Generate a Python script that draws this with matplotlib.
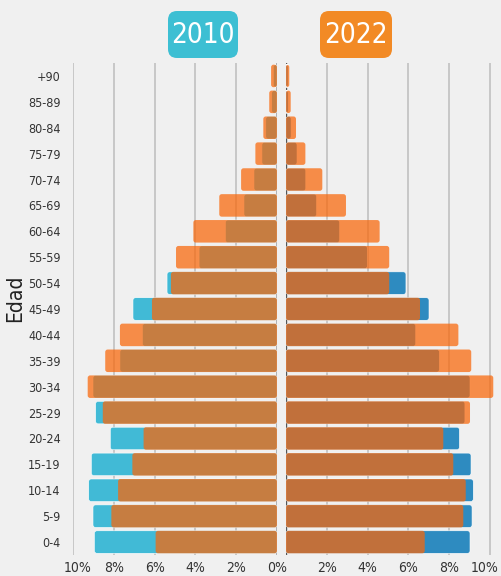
import matplotlib
matplotlib.use('Agg')
import matplotlib.pyplot as plt
import matplotlib.transforms as mtransforms
from matplotlib.patches import FancyBboxPatch

plt.rcParams['font.family'] = ['DejaVu Sans']
plt.rcParams['font.stretch'] = 'condensed'

# ── data (percent of population by age group, bottom → top) ──────────────
ages = ['0-4', '5-9', '10-14', '15-19', '20-24', '25-29', '30-34', '35-39',
        '40-44', '45-49', '50-54', '55-59', '60-64', '65-69', '70-74',
        '75-79', '80-84', '85-89', '+90']

base_2010 = [8.95, 9.02, 9.23, 9.10, 8.17, 8.89, 9.02, 7.70, 6.60, 7.06,
             5.39, 3.82, 2.53, 1.62, 1.13, 0.74, 0.55, 0.26, 0.18]
over_2010 = [5.95, 8.12, 7.79, 7.09, 6.54, 8.54, 9.28, 8.42, 7.70, 6.13,
             5.20, 4.95, 4.10, 2.83, 1.76, 1.06, 0.67, 0.38, 0.29]

base_2022 = [9.02, 9.12, 9.18, 9.07, 8.50, 8.77, 9.02, 7.52, 6.36, 7.01,
             5.88, 3.99, 2.63, 1.50, 0.97, 0.54, 0.25, 0.11, 0.10]
over_2022 = [6.80, 8.69, 8.81, 8.20, 7.71, 9.02, 10.16, 9.08, 8.45, 6.57,
             5.06, 5.06, 4.59, 2.94, 1.78, 0.95, 0.49, 0.23, 0.16]

xticks = [0, 2, 4, 6, 8, 10]
left_labels = ['0%', '2%', '4%', '6%', '8%', '10%']
right_labels = ['', '2%', '4%', '6%', '8%', '10%']

BG = '#f0f0f0'
TEAL = '#41bad6'
BLUE = '#2e8bc0'
ORANGE = '#f9670a'
BADGE_TEAL = '#3dbfd3'
BADGE_ORANGE = '#f28a25'
TXT = '#333333'

W, H = 501, 576
PX_X, PX_Y = 20.4, 25.9   # pixels per data unit (x in %, y per row)


def round_bars(ax, bars, radius_px=2.5):
    # swap the plain rectangles for rounded ones, same geometry
    for r in bars.patches:
        fb = FancyBboxPatch((r.get_x(), r.get_y()), r.get_width(), r.get_height(),
                            boxstyle=f'round,pad=0,rounding_size={radius_px / PX_X}',
                            mutation_aspect=PX_X / PX_Y,
                            facecolor=r.get_facecolor(), edgecolor=r.get_edgecolor(),
                            linewidth=r.get_linewidth(), zorder=r.get_zorder())
        r.remove()
        ax.add_patch(fb)


fig = plt.figure(figsize=(W / 100, H / 100), dpi=100, facecolor=BG)

ypos = list(range(len(ages)))
bottom = (H - 555) / H
height = 492 / H

ax_l = fig.add_axes([73 / W, bottom, 204 / W, height], facecolor=BG)
ax_r = fig.add_axes([286 / W, bottom, 214.2 / W, height], facecolor=BG)

for ax, base, over, bcol, labels in ((ax_l, base_2010, over_2010, TEAL, left_labels),
                                     (ax_r, base_2022, over_2022, BLUE, right_labels)):
    b1 = ax.barh(ypos, base, height=0.87, color=bcol, zorder=2,
                 edgecolor='#ffffff', linewidth=0.4)
    b2 = ax.barh(ypos, over, height=0.87, color=ORANGE, alpha=0.73, zorder=3,
                 linewidth=0)
    round_bars(ax, b1)
    round_bars(ax, b2)
    ax.set_ylim(-0.5, len(ages) - 0.5)
    ax.set_xticks(xticks)
    ax.set_xticklabels(labels)
    ax.xaxis.grid(True, color='#bdbdbd', linewidth=1.1, zorder=0)
    ax.axvline(0, color='#555555', linewidth=1.0, zorder=1)
    ax.set_axisbelow(True)
    for s in ax.spines.values():
        s.set_visible(False)
    ax.tick_params(axis='x', length=0, pad=4, labelsize=10, labelcolor=TXT)
    ax.tick_params(axis='y', length=0)

ax_l.set_xlim(10, 0)
ax_r.set_xlim(0, 10.5)

# nudge the outer "10%" labels inward so they stay on the canvas
for ax, dx in ((ax_l, 5), (ax_r, -5)):
    lbl = ax.get_xticklabels()[-1]
    lbl.set_transform(lbl.get_transform() +
                      mtransforms.ScaledTranslation(dx / 100, 0, fig.dpi_scale_trans))

ax_l.set_yticks(ypos)
ax_l.set_yticklabels(ages)
ax_l.tick_params(axis='y', pad=9, labelsize=9, labelcolor=TXT)
ax_r.set_yticks([])

fig.text(15 / W, 1 - 298 / H, 'Edad', rotation=90, ha='center', va='center',
         fontsize=15, color='#222222')

# ── year badges (overlay axes in pixel units) ─────────────────────────────
ov = fig.add_axes([0, 0, 1, 1], facecolor='none')
ov.set_xlim(0, W)
ov.set_ylim(H, 0)
ov.axis('off')
for x0, x1, label, col in ((168, 238, '2010', BADGE_TEAL),
                           (320, 392, '2022', BADGE_ORANGE)):
    ov.add_patch(FancyBboxPatch((x0, 11), x1 - x0, 47,
                                boxstyle='round,pad=0,rounding_size=9',
                                facecolor=col, edgecolor='none'))
    ov.text((x0 + x1) / 2, 35, label, ha='center', va='center',
            fontsize=20, color='white')

fig.savefig('out.png', dpi=100, facecolor=BG)
